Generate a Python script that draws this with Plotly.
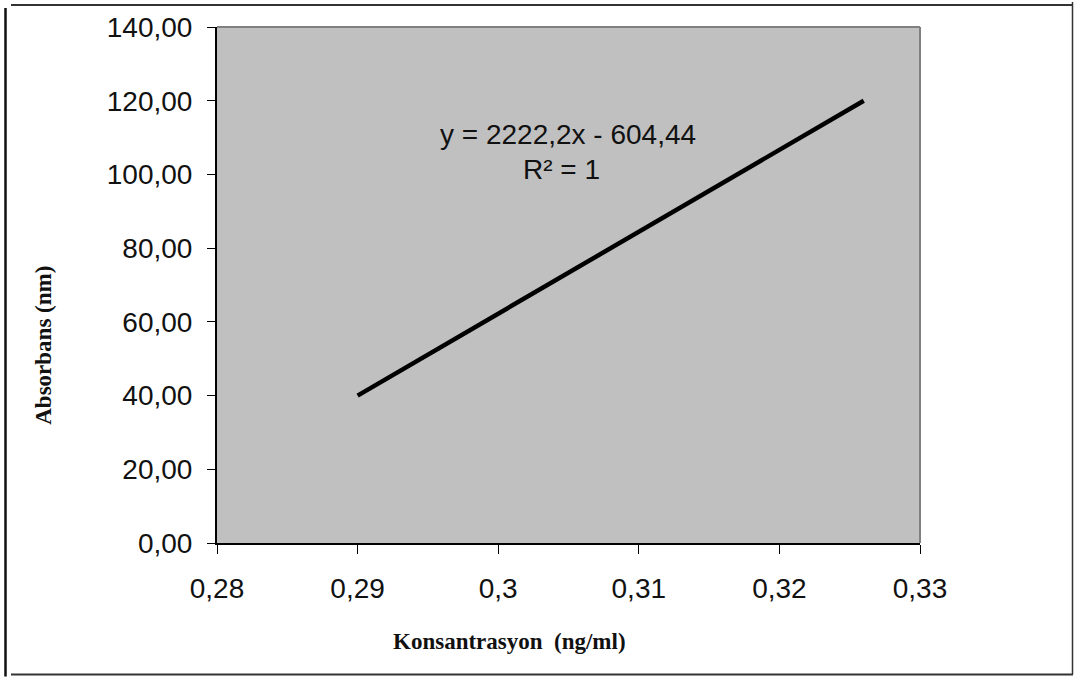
import plotly.graph_objects as go

# Data
konsantrasyon = [0.29, 0.30, 0.31, 0.321, 0.326]
absorbans = [40.0, 62.2, 84.4, 108.9, 120.0]

x_tickvals = [0.28, 0.29, 0.30, 0.31, 0.32, 0.33]
x_ticktext = ["0,28", "0,29", "0,3", "0,31", "0,32", "0,33"]
y_tickvals = [0, 20, 40, 60, 80, 100, 120, 140]
y_ticktext = ["0,00", "20,00", "40,00", "60,00", "80,00", "100,00", "120,00", "140,00"]

equation_text = "y = 2222,2x - 604,44"
r2_text = "R² = 1"
x_title = "Konsantrasyon  (ng/ml)"
y_title = "Absorbans (nm)"

W, H = 1077, 677
L, R, T, B = 217, 920, 25, 543
pw, ph = R - L, B - T

def px(x):
    return (x - L) / pw

def py(y):
    return (B - y) / ph

fig = go.Figure()
fig.add_trace(go.Scatter(
    x=konsantrasyon, y=absorbans, mode="lines",
    line=dict(color="black", width=4.5),
    showlegend=False, hoverinfo="skip",
))

tick_font = dict(family="Liberation Sans, Arial, sans-serif", size=28, color="#111")
title_font = dict(family="Liberation Serif, DejaVu Serif, serif", size=23, color="#111")
eq_font = dict(family="Liberation Sans, Arial, sans-serif", size=28, color="#111")

fig.update_layout(
    width=W, height=H,
    margin=dict(l=L, r=W - R, t=T, b=H - B, pad=0),
    paper_bgcolor="white",
    plot_bgcolor="#C0C0C0",
    xaxis=dict(
        range=[0.28, 0.33], tickvals=x_tickvals, ticktext=x_ticktext,
        showgrid=False, zeroline=False, showline=True, linecolor="black", linewidth=2,
        ticks="outside", ticklen=9, tickwidth=1, tickcolor="black",
        tickfont=tick_font, ticklabelstandoff=10,
    ),
    yaxis=dict(
        range=[0, 140], tickvals=y_tickvals, ticktext=y_ticktext,
        showgrid=False, zeroline=False, showline=True, linecolor="black", linewidth=2,
        ticks="outside", ticklen=8, tickwidth=1, tickcolor="black",
        tickfont=tick_font, ticklabelstandoff=9,
    ),
    shapes=[
        # plot area top/right border (gray)
        dict(type="line", xref="paper", yref="paper", x0=0, x1=1, y0=1, y1=1,
             line=dict(color="#808080", width=2)),
        dict(type="line", xref="paper", yref="paper", x0=1, x1=1, y0=0, y1=1,
             line=dict(color="#808080", width=2)),
        # outer frame
        dict(type="line", xref="paper", yref="paper", x0=px(11), x1=px(1073), y0=py(3), y1=py(3),
             line=dict(color="#333", width=2)),
        dict(type="line", xref="paper", yref="paper", x0=px(5.5), x1=px(5.5), y0=py(6), y1=py(677),
             line=dict(color="#111", width=2.5)),
        dict(type="line", xref="paper", yref="paper", x0=px(11), x1=px(1073), y0=py(675), y1=py(675),
             line=dict(color="#333", width=2)),
        dict(type="line", xref="paper", yref="paper", x0=px(1072.5), x1=px(1072.5), y0=py(0), y1=py(675),
             line=dict(color="#333", width=1.5)),
    ],
    annotations=[
        dict(text=equation_text, xref="paper", yref="paper", x=px(568), y=py(133),
             showarrow=False, xanchor="center", yanchor="middle", font=eq_font),
        dict(text=r2_text, xref="paper", yref="paper", x=px(561), y=py(168),
             showarrow=False, xanchor="center", yanchor="middle", font=eq_font),
        dict(text="<b>" + x_title + "</b>", xref="paper", yref="paper", x=px(509), y=py(642),
             showarrow=False, xanchor="center", yanchor="middle", font=title_font),
        dict(text="<b>" + y_title + "</b>", xref="paper", yref="paper", x=px(44), y=py(345),
             showarrow=False, xanchor="center", yanchor="middle", textangle=-90, font=title_font),
    ],
)

fig.write_html("out.html", config={"displayModeBar": False},
               post_script="document.body.style.margin='0';document.body.style.overflow='hidden';")
